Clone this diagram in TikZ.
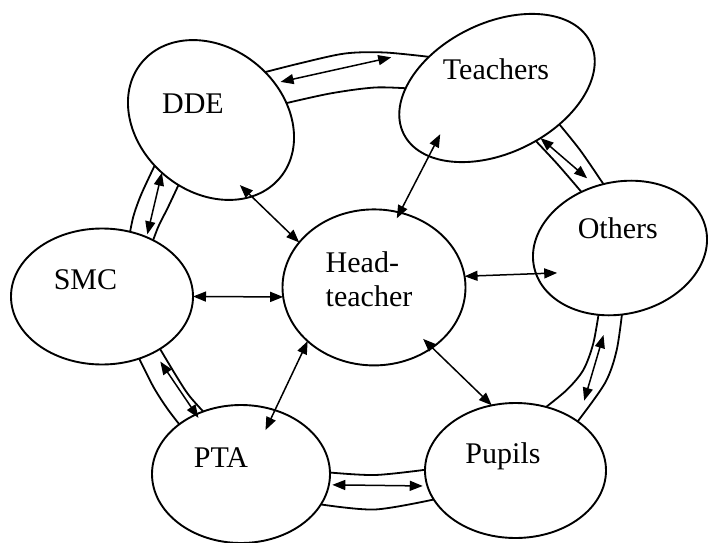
\documentclass[tikz,border=0pt]{standalone}
\usepackage{fontspec}
\setmainfont{Liberation Serif}
\usetikzlibrary{shapes.geometric,arrows.meta}
\begin{document}
\begin{tikzpicture}[x=1pt,y=-1pt,
  oval/.style={draw,ellipse,fill=white,line width=1.9pt,inner sep=0pt,outer sep=0pt},
  lbl/.style={inner sep=0pt,anchor=base,font=\fontsize{30}{34}\selectfont},
  ringline/.style={line width=1.8pt,line join=round,line cap=round},
  link/.style={line width=1.5pt,{Triangle[length=13pt,width=10pt]}-{Triangle[length=13pt,width=10pt]}}]

\path[use as bounding box] (0,0) rectangle (709,543);

% ring bands (drawn first, ellipses cover their ends)
\draw[ringline] plot[smooth] coordinates {(258.9,73.7) (300,63.3) (345,53.5) (385,52.5) (434.7,57.5)};
\draw[ringline] plot[smooth] coordinates {(279.2,104.8) (330,93.5) (375,87.5) (413,88.7)};
\draw[ringline] plot[smooth] coordinates {(553.3,117.1) (580,150) (606.2,188.3)};
\draw[ringline] plot[smooth] coordinates {(527.8,132.5) (556.7,163.3) (583.5,194.4)};
\draw[ringline] plot[smooth] coordinates {(622.8,307) (616.7,350) (605,383) (575,425) (568,433)};
\draw[ringline] plot[smooth] coordinates {(599.7,307.1) (593.3,343.3) (583.3,370) (566.7,390) (542.1,410.1)};
\draw[ringline] plot[smooth] coordinates {(324,472) (375,475) (431,469)};
\draw[ringline] plot[smooth] coordinates {(318,504) (375,509.5) (438,498.6)};
\draw[ringline] plot[smooth] coordinates {(136.4,352.8) (153.3,386.7) (168.3,410) (184.9,431.3)};
\draw[ringline] plot[smooth] coordinates {(157.6,344.8) (176.7,376.7) (190,396.7) (210.4,419.2)};
\draw[ringline] plot[smooth] coordinates {(158.4,157.8) (141.7,193.3) (133.3,216.7) (128.4,241.2)};
\draw[ringline] plot[smooth] coordinates {(183.4,174.5) (168.3,206.7) (158.3,226.7) (150.5,247.5)};

% ellipses
\node[oval,minimum width=183pt,minimum height=156pt] (head) at (374,287.4) {};
\node[oval,minimum width=180pt,minimum height=144pt,rotate=-40] (dde) at (211,120) {};
\node[oval,minimum width=208pt,minimum height=130pt,rotate=26] (teach) at (497,88) {};
\node[oval,minimum width=176pt,minimum height=132pt,rotate=13] (others) at (620,248) {};
\node[oval,minimum width=182pt,minimum height=136pt] (smc) at (102,296.5) {};
\node[oval,minimum width=178pt,minimum height=138pt] (pta) at (241,474) {};
\node[oval,minimum width=181pt,minimum height=135pt] (pupils) at (515.5,470.5) {};

% labels
\node[lbl] (tdde) at (193,113) {DDE};
\node[lbl] (tteach) at (496,79.5) {Teachers};
\node[lbl] (tothers) at (617.8,238.5) {Others};
\node[lbl] (tsmc) at (85.5,289.5) {SMC};
\node[lbl] (tpta) at (221,467.5) {PTA};
\node[lbl] (tpupils) at (503,463.5) {Pupils};
\node[inner sep=0pt,anchor=north west,align=left,font=\fontsize{30}{33.5}\selectfont] (thead) at (325.5,251.5) {Head-\\teacher};

% spokes
\draw[link,shorten >=-16.4pt] (head.149.2) -- (dde.-22.2);
\draw[link,shorten <=-6.5pt,shorten >=-24.7pt] (head.71.2) -- (teach.-161.9);
\draw[link,shorten >=-21.2pt] (head.7.6) -- (others.-176.8);
\draw[link,shorten <=-12.5pt] (head.-46.3) -- (pupils.110.4);
\draw[link,shorten >=-22pt] (head.-141.8) -- (pta.62.7);
\draw[link] (head.186.5) -- (smc.-0.8);

% ring arrows
\draw[link,shorten <=6pt,shorten >=51.5pt] (dde.70.9) -- (teach.117);
\draw[link,shorten >=12pt] (teach.-75.5) -- (others.98.4);
\draw[link,shorten <=20.6pt,shorten >=21.9pt] (others.-112) -- (pupils.38.9);
\draw[link,shorten <=4.7pt,shorten >=3.4pt] (pupils.-170) -- (pta.-7.8);
\draw[link,shorten <=11.2pt,shorten >=-4.2pt] (smc.-47.2) -- (pta.127.1);
\draw[link,shorten <=3pt] (smc.53.6) -- (dde.-93.9);
\end{tikzpicture}
\end{document}
